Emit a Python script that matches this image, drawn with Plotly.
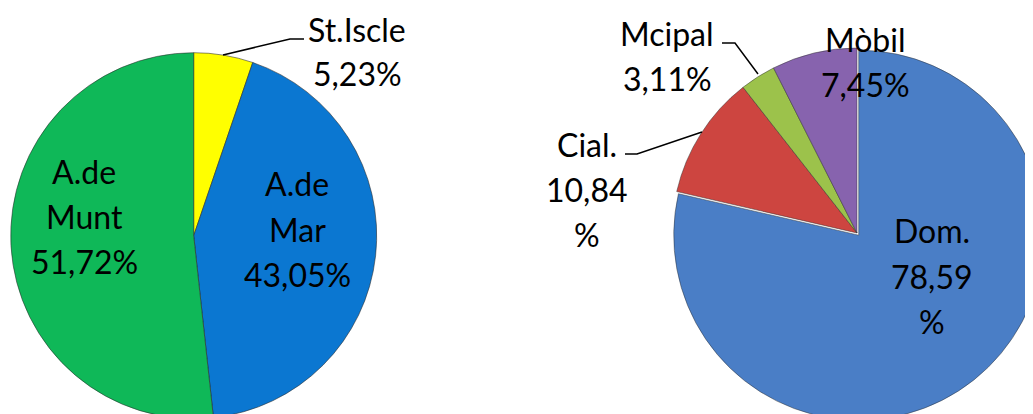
import plotly.graph_objects as go

# ---------------- data ----------------
left_labels = ["St.Iscle", "A.de Mar", "A.de Munt"]
left_values = [5.23, 43.05, 51.72]
left_text = [["St.Iscle", "5,23%"], ["A.de", "Mar", "43,05%"], ["A.de", "Munt", "51,72%"]]
left_colors = ["#FFFF00", "#0B77D1", "#0FB858"]

right_labels = ["Dom.", "Cial.", "Mcipal", "Mòbil"]
right_values = [78.59, 10.84, 3.11, 7.45]
right_text = [["Dom.", "78,59", "%"], ["Cial.", "10,84", "%"], ["Mcipal", "3,11%"], ["Mòbil", "7,45%"]]
right_colors = ["#4A7EC6", "#CD4540", "#9CC24B", "#8763AE"]
right_pull = [0.015, 0, 0, 0]

# ---------------- layout helpers (pixels -> paper) ----------------
W, H = 1050, 425
OFF = 8  # page body margin


def px(x):
    return (x - OFF) / W


def py(y):
    return 1 - (y - OFF) / H


def domain(cx, cy, r, pull):
    h = r * (1 + pull)
    return dict(x=[px(cx - h), px(cx + h)], y=[py(cy + h), py(cy - h)])


FONT = "Lato, Carlito, Calibri, sans-serif"
FS = 32
LINE = 45

fig = go.Figure()

fig.add_trace(go.Pie(
    labels=left_labels, values=left_values, sort=False, direction="clockwise",
    rotation=0, textinfo="none", hoverinfo="label+percent", showlegend=False,
    marker=dict(colors=left_colors, line=dict(color="rgba(40,40,40,0.55)", width=1)),
    domain=domain(193.7, 235.7, 183, 0),
))

fig.add_trace(go.Pie(
    labels=right_labels, values=right_values, sort=False, direction="clockwise",
    rotation=0, textinfo="none", hoverinfo="label+percent", showlegend=False,
    pull=right_pull,
    marker=dict(colors=right_colors, line=dict(color="rgba(40,40,40,0.45)", width=1)),
    domain=domain(857, 233, 185, max(right_pull)),
))

# label placement: (centre x, first baseline) in pixels
left_pos = [(357, 40), (297, 195), (84, 182)]
right_pos = [(932, 242), (587, 155), (667, 45), (865, 50)]

annotations = []
for lines, (cx, b) in list(zip(left_text, left_pos)) + list(zip(right_text, right_pos)):
    for i, ln in enumerate(lines):
        annotations.append(dict(
            text=ln, x=px(cx), y=py(b + LINE * i - 11), xref="paper", yref="paper",
            xanchor="center", yanchor="middle", showarrow=False,
            font=dict(family=FONT, size=FS, color="#000000"),
        ))

# leader lines
leaders = [
    [(304, 39), (290, 39), (223, 55)],
    [(722, 43), (735, 43), (758, 74)],
    [(625, 154), (637, 154), (702, 132)],
]
shapes = []
for pts in leaders:
    path = "M " + " L ".join(f"{px(x)},{py(y)}" for x, y in pts)
    shapes.append(dict(type="path", xref="paper", yref="paper", path=path,
                       line=dict(color="#000000", width=1.5)))

fig.update_layout(
    width=W, height=H, autosize=False,
    margin=dict(l=0, r=0, t=0, b=0, pad=0),
    paper_bgcolor="white", plot_bgcolor="white",
    annotations=annotations, shapes=shapes,
    font=dict(family=FONT),
)

fig.write_html("out.html")
